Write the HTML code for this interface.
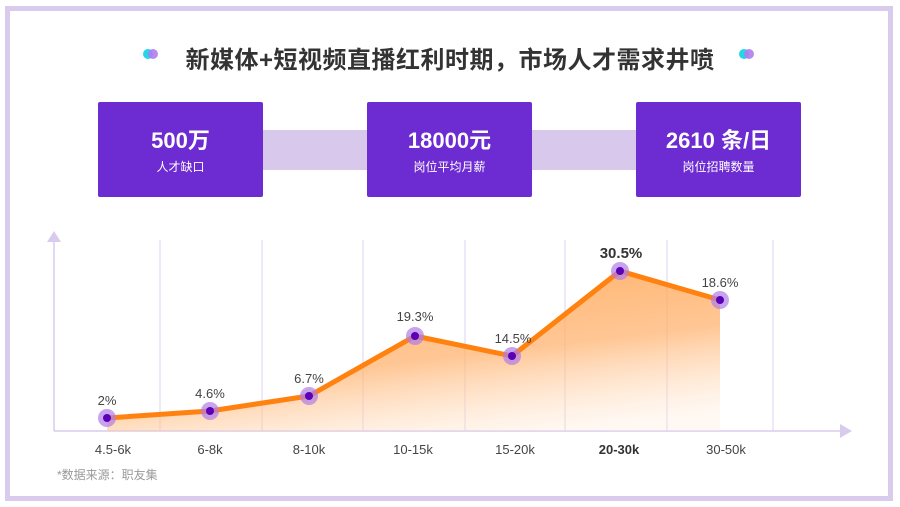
<!DOCTYPE html>
<html><head><meta charset="utf-8"><style>
html,body{margin:0;padding:0;background:#fff;}
body{width:900px;height:507px;position:relative;overflow:hidden;font-family:"Liberation Sans","Noto Sans CJK SC",sans-serif;}
.frame{position:absolute;left:5px;top:6px;width:878px;height:485px;border:5px solid #d9cbee;}
.title{position:absolute;left:0;width:900px;top:40px;text-align:center;font-size:24px;font-weight:bold;color:#333;letter-spacing:0.5px;}
.box{position:absolute;top:102px;width:165px;height:95px;background:#6d2bd2;border-radius:2px;color:#fff;text-align:center;}
.box .n{margin-top:26px;font-size:22px;font-weight:bold;line-height:26px;}
.box .l{font-size:12px;margin-top:4px;}
.band{position:absolute;top:130px;height:40px;background:#d8c9ec;}
</style></head><body>
<div class="frame"></div>
<div class="band" style="left:263px;width:104px"></div>
<div class="band" style="left:531px;width:105px"></div>
<div class="title">新媒体+短视频直播红利时期，市场人才需求井喷</div>
<svg style="position:absolute;left:0;top:0" width="900" height="507">
<circle cx="148" cy="54" r="5" fill="#22d7e8"/><circle cx="153" cy="54" r="5" fill="#b07cf0" opacity="0.9"/>
<circle cx="744" cy="54" r="5" fill="#22d7e8"/><circle cx="749" cy="54" r="5" fill="#b07cf0" opacity="0.9"/>
</svg>
<div class="box" style="left:98px"><div class="n">500万</div><div class="l">人才缺口</div></div>
<div class="box" style="left:367px"><div class="n">18000元</div><div class="l">岗位平均月薪</div></div>
<div class="box" style="left:636px"><div class="n">2610 条/日</div><div class="l">岗位招聘数量</div></div>
<svg style="position:absolute;left:0;top:0" width="900" height="507">
<defs>
<linearGradient id="g" x1="0.3" y1="0" x2="0.75" y2="1">
<stop offset="0" stop-color="#ffa24a" stop-opacity="0.85"/>
<stop offset="0.55" stop-color="#ffb472" stop-opacity="0.75"/>
<stop offset="1" stop-color="#ffe9d6" stop-opacity="0.3"/>
</linearGradient>
</defs>
<g stroke="#e3d8f3" stroke-width="1.2">
<line x1="160" y1="240" x2="160" y2="431"/><line x1="262" y1="240" x2="262" y2="431"/>
<line x1="363" y1="240" x2="363" y2="431"/><line x1="465" y1="240" x2="465" y2="431"/>
<line x1="565" y1="240" x2="565" y2="431"/><line x1="667" y1="240" x2="667" y2="431"/>
<line x1="773" y1="240" x2="773" y2="431"/>
</g>
<line x1="54" y1="240" x2="54" y2="431" stroke="#d9cbee" stroke-width="1.5"/>
<line x1="54" y1="431" x2="842" y2="431" stroke="#d9cbee" stroke-width="1.5"/>
<polygon points="47,242 61,242 54,231" fill="#d9cbee"/>
<polygon points="840,424 840,438 852,431" fill="#d9cbee"/>
<polygon points="107,418 210,411 309,396 415,336 512,356 620,271 720,300 720,431 107,431" fill="url(#g)"/>
<polyline points="107,418 210,411 309,396 415,336 512,356 620,271 720,300" fill="none" stroke="#ff8210" stroke-width="5" stroke-linejoin="round"/>
<g fill="#b17de8" opacity="0.7">
<circle cx="107" cy="418" r="9"/><circle cx="210" cy="411" r="9"/><circle cx="309" cy="396" r="9"/><circle cx="415" cy="336" r="9"/><circle cx="512" cy="356" r="9"/><circle cx="620" cy="271" r="9"/><circle cx="720" cy="300" r="9"/>
</g>
<g fill="#5a00b8">
<circle cx="107" cy="418" r="4"/><circle cx="210" cy="411" r="4"/><circle cx="309" cy="396" r="4"/><circle cx="415" cy="336" r="4"/><circle cx="512" cy="356" r="4"/><circle cx="620" cy="271" r="4"/><circle cx="720" cy="300" r="4"/>
</g>
<g font-size="13" fill="#444" text-anchor="middle" font-family="Liberation Sans, sans-serif">
<text x="107" y="405">2%</text><text x="210" y="398">4.6%</text><text x="309" y="383">6.7%</text>
<text x="415" y="321">19.3%</text><text x="513" y="343">14.5%</text>
<text x="621" y="258" font-size="15" font-weight="bold" fill="#333">30.5%</text>
<text x="720" y="287">18.6%</text>
<text x="113" y="454">4.5-6k</text><text x="210" y="454">6-8k</text><text x="309" y="454">8-10k</text>
<text x="413" y="454">10-15k</text><text x="515" y="454">15-20k</text>
<text x="619" y="454" font-weight="bold" fill="#333">20-30k</text><text x="726" y="454">30-50k</text>
</g>
<text x="57" y="479" font-size="12" fill="#999" font-family="Liberation Sans, Noto Sans CJK SC, sans-serif">*数据来源：职友集</text>
</svg>
</body></html>
